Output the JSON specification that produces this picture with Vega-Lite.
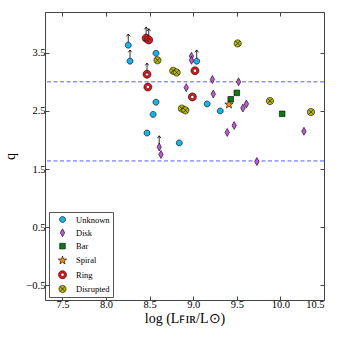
{
  "$schema": "https://vega.github.io/schema/vega-lite/v6.json",
  "autosize": "none",
  "width": 279,
  "height": 288,
  "padding": {"left": 45, "top": 12, "right": 21, "bottom": 37},
  "config": {
    "font": "Liberation Serif",
    "view": {"stroke": "#444", "strokeWidth": 1},
    "axis": {"domain": false, "grid": false, "tickColor": "#444", "tickSize": -4, "labelFont": "Liberation Serif", "labelFontSize": 10.5, "labelColor": "#000", "titleFont": "Liberation Serif", "titleFontWeight": "normal", "titleColor": "#000"}
  },
  "datasets": {
    "pts": [
      {"logL": 8.255, "q": 3.63, "type": "Unknown", "limit": true},
      {"logL": 8.275, "q": 3.355, "type": "Unknown", "limit": true},
      {"logL": 8.573, "q": 3.49, "type": "Unknown", "limit": false},
      {"logL": 9.04, "q": 3.355, "type": "Unknown", "limit": true},
      {"logL": 8.573, "q": 2.65, "type": "Unknown", "limit": false},
      {"logL": 8.54, "q": 2.44, "type": "Unknown", "limit": false},
      {"logL": 8.47, "q": 2.12, "type": "Unknown", "limit": false},
      {"logL": 8.84, "q": 1.95, "type": "Unknown", "limit": false},
      {"logL": 9.16, "q": 2.62, "type": "Unknown", "limit": false},
      {"logL": 9.31, "q": 2.5, "type": "Unknown", "limit": false},
      {"logL": 8.98, "q": 3.44, "type": "Disk", "limit": false},
      {"logL": 8.98, "q": 3.37, "type": "Disk", "limit": false},
      {"logL": 9.22, "q": 3.04, "type": "Disk", "limit": false},
      {"logL": 9.52, "q": 3.0, "type": "Disk", "limit": false},
      {"logL": 8.92, "q": 2.9, "type": "Disk", "limit": false},
      {"logL": 9.23, "q": 2.79, "type": "Disk", "limit": false},
      {"logL": 9.61, "q": 2.62, "type": "Disk", "limit": false},
      {"logL": 9.57, "q": 2.55, "type": "Disk", "limit": false},
      {"logL": 9.47, "q": 2.25, "type": "Disk", "limit": false},
      {"logL": 9.39, "q": 2.13, "type": "Disk", "limit": false},
      {"logL": 10.27, "q": 2.15, "type": "Disk", "limit": false},
      {"logL": 8.61, "q": 1.88, "type": "Disk", "limit": true},
      {"logL": 8.63, "q": 1.75, "type": "Disk", "limit": false},
      {"logL": 9.73, "q": 1.63, "type": "Disk", "limit": false},
      {"logL": 9.5, "q": 2.81, "type": "Bar", "limit": false},
      {"logL": 9.43, "q": 2.7, "type": "Bar", "limit": false},
      {"logL": 10.02, "q": 2.45, "type": "Bar", "limit": false},
      {"logL": 9.41, "q": 2.61, "type": "Spiral", "limit": false},
      {"logL": 8.46, "q": 3.75, "type": "Ring", "limit": true},
      {"logL": 8.49, "q": 3.72, "type": "Ring", "limit": true},
      {"logL": 8.47, "q": 3.13, "type": "Ring", "limit": true},
      {"logL": 8.48, "q": 2.91, "type": "Ring", "limit": false},
      {"logL": 9.02, "q": 3.19, "type": "Ring", "limit": false},
      {"logL": 8.99, "q": 2.74, "type": "Ring", "limit": false},
      {"logL": 9.51, "q": 3.66, "type": "Disrupted", "limit": false},
      {"logL": 8.59, "q": 3.37, "type": "Disrupted", "limit": false},
      {"logL": 8.77, "q": 3.19, "type": "Disrupted", "limit": false},
      {"logL": 8.81, "q": 3.16, "type": "Disrupted", "limit": false},
      {"logL": 8.87, "q": 2.54, "type": "Disrupted", "limit": false},
      {"logL": 8.91, "q": 2.51, "type": "Disrupted", "limit": false},
      {"logL": 9.88, "q": 2.67, "type": "Disrupted", "limit": false},
      {"logL": 10.35, "q": 2.48, "type": "Disrupted", "limit": false}
    ],
    "lines": [{"q": 3.0}, {"q": 1.64}]
  },
  "resolve": {"axis": {"x": "independent", "y": "independent"}},
  "layer": [
    {
      "data": {"name": "lines"},
      "mark": {"type": "rule", "color": "#5a5aff", "strokeWidth": 1, "strokeDash": [4, 2.5]},
      "encoding": {
        "y": {"field": "q", "type": "quantitative", "scale": {"domain": [-0.75, 4.2], "nice": false, "zero": false}, "axis": null}
      }
    },
    {
      "data": {"name": "pts"},
      "transform": [{"filter": "datum.limit"}],
      "mark": {"type": "point", "shape": "M0,0V-2.8M-0.45,-2.2L0,-2.8L0.45,-2.2", "filled": false, "stroke": "#000", "strokeWidth": 0.8, "size": 64, "opacity": 1},
      "encoding": {
        "x": {"field": "logL", "type": "quantitative", "scale": {"domain": [7.3, 10.5], "nice": false, "zero": false}, "axis": {"orient": "top", "labels": false, "title": null, "values": [7.5, 8.0, 8.5, 9.0, 9.5, 10.0, 10.5]}},
        "y": {"field": "q", "type": "quantitative", "scale": {"domain": [-0.75, 4.2], "nice": false, "zero": false}, "axis": {"orient": "right", "labels": false, "title": null, "values": [-0.5, 0.5, 1.5, 2.5, 3.5]}}
      }
    },
    {
      "data": {"name": "pts"},
      "mark": {"type": "point", "filled": true, "size": 64, "stroke": "#000", "strokeWidth": 0.6, "opacity": 1},
      "encoding": {
        "x": {"field": "logL", "type": "quantitative", "scale": {"domain": [7.3, 10.5], "nice": false, "zero": false},
          "axis": {"orient": "bottom", "values": [7.5, 8.0, 8.5, 9.0, 9.5, 10.0, 10.5], "format": ".1f", "labelPadding": 3, "title": "log (Lꜰɪʀ/L⊙)", "titleFontSize": 14, "titlePadding": 2}},
        "y": {"field": "q", "type": "quantitative", "scale": {"domain": [-0.75, 4.2], "nice": false, "zero": false},
          "axis": {"orient": "left", "values": [-0.5, 0.5, 1.5, 2.5, 3.5], "format": ".1f", "labelPadding": 4, "title": "q", "titleFontSize": 14, "titlePadding": 8}},
        "color": {"field": "type", "type": "nominal",
          "scale": {"domain": ["Unknown", "Disk", "Bar", "Spiral", "Ring", "Disrupted"], "range": ["#1ab2ea", "#c058d6", "#0e7a12", "#ff8c00", "#e8141a", "#b8b800"]},
          "legend": {"title": null, "orient": "bottom-left", "offset": 3.5, "padding": 3, "symbolOffset": 6, "labelOffset": 9, "rowPadding": 3.3, "symbolSize": 64, "symbolStrokeColor": "#000", "symbolStrokeWidth": 0.6, "labelFont": "Liberation Serif", "labelFontSize": 8.5, "labelColor": "#000", "strokeColor": "#555", "fillColor": "#fff", "cornerRadius": 0}},
        "shape": {"field": "type", "type": "nominal",
          "scale": {"domain": ["Unknown", "Disk", "Bar", "Spiral", "Ring", "Disrupted"], "range": [
            "M-0.75,0A0.75,0.75 0 1,1 0.75,0A0.75,0.75 0 1,1 -0.75,0Z",
            "M0,-1L0.55,0L0,1L-0.55,0Z",
            "M-0.7,-0.7H0.7V0.7H-0.7Z",
            "M0,-1.1L0.26,-0.36L1.05,-0.34L0.43,0.14L0.65,0.89L0,0.45L-0.65,0.89L-0.43,0.14L-1.05,-0.34L-0.26,-0.36Z",
            "M-1,0A1,1 0 1,1 1,0A1,1 0 1,1 -1,0ZM-0.42,0A0.42,0.42 0 1,0 0.42,0A0.42,0.42 0 1,0 -0.42,0Z",
            "M-0.9,0A0.9,0.9 0 1,1 0.9,0A0.9,0.9 0 1,1 -0.9,0ZM-0.62,-0.62L0.62,0.62M-0.62,0.62L0.62,-0.62"
          ]},
          "legend": {"title": null}}
      }
    }
  ]
}
